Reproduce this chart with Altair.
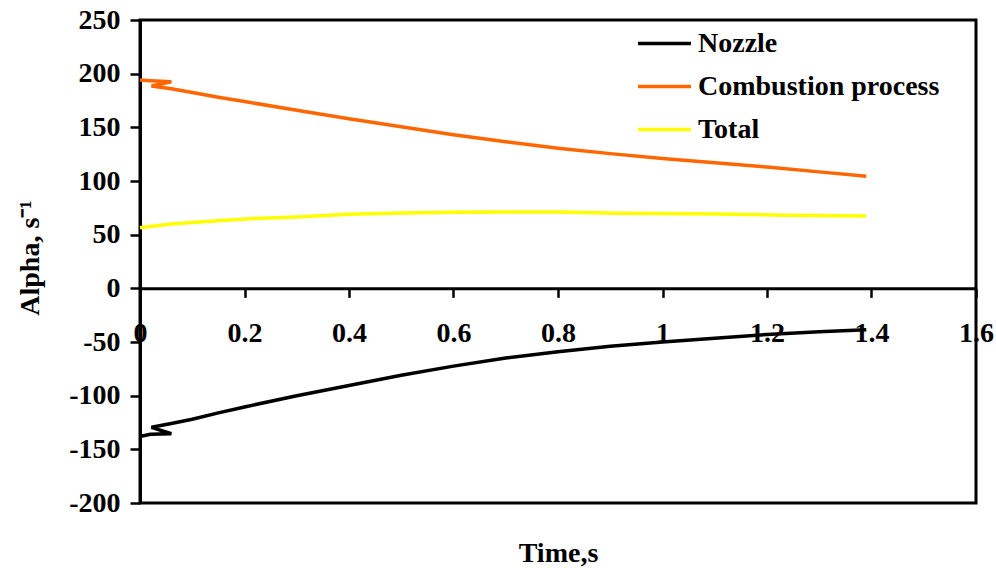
import altair as alt
import pandas as pd

series_names = ["Nozzle", "Combustion process", "Total"]
colors = ["#000000", "#FF6600", "#FFFF00"]

comb_t = [0, 0.02, 0.06, 0.022, 0.06, 0.1, 0.15, 0.2, 0.3, 0.4, 0.5, 0.6, 0.7, 0.8, 0.9, 1.0, 1.1, 1.2, 1.3, 1.39]
comb_v = [194, 193.5, 192.5, 188.5, 186, 182.5, 178, 174, 166, 158, 150.5, 143, 136.5, 130.5, 125.5, 121, 117, 113, 108.5, 104.5]

noz_t = [0, 0.02, 0.06, 0.022, 0.06, 0.1, 0.15, 0.2, 0.3, 0.4, 0.5, 0.6, 0.7, 0.8, 0.9, 1.0, 1.1, 1.2, 1.3, 1.39]
noz_v = [-138, -136, -135.5, -129.5, -126, -122, -116, -110.5, -100, -90.5, -81, -72.5, -65, -59, -54, -50, -46.5, -43, -40.5, -38.5]

tot_t = [0, 0.06, 0.12, 0.165, 0.22, 0.3, 0.4, 0.5, 0.6, 0.7, 0.8, 0.92, 1.0, 1.1, 1.23, 1.39]
tot_v = [56.5, 60, 62, 63.4, 65, 66.5, 69, 70.3, 71, 71.2, 71.2, 70, 69.7, 69.3, 68.2, 67.5]

x_ticks = [0, 0.2, 0.4, 0.6, 0.8, 1.0, 1.2, 1.4, 1.6]
y_ticks = [-200, -150, -100, -50, 0, 50, 100, 150, 200, 250]

rows = []
for name, ts, vs in [("Nozzle", noz_t, noz_v), ("Combustion process", comb_t, comb_v), ("Total", tot_t, tot_v)]:
    for i, (t, v) in enumerate(zip(ts, vs)):
        rows.append({"series": name, "t": t, "v": v, "idx": i})
df = pd.DataFrame(rows)

W, H = 836, 483
ymin, ymax = -200, 250
zero_pos = H * (ymax - 0) / (ymax - ymin)

FONT = "Liberation Serif"
FS = 28

chart = alt.Chart(df).mark_line(strokeWidth=3.5).encode(
    x=alt.X("t:Q",
            scale=alt.Scale(domain=[0, 1.6], nice=False, zero=False),
            axis=alt.Axis(values=x_ticks, format="~g", offset=-(H - zero_pos),
                          title="Time,s", titleX=W / 2, titleY=265, titleBaseline="middle",
                          tickSize=9, tickWidth=2.5, domainWidth=3, labelPadding=22,
                          labelFlush=False, grid=False)),
    y=alt.Y("v:Q",
            scale=alt.Scale(domain=[ymin, ymax], nice=False),
            axis=alt.Axis(values=y_ticks, title="Alpha, s⁻¹",
                          labelExpr="'' + datum.value",
                          tickSize=10, tickWidth=2.5, domainWidth=3, labelPadding=10,
                          titleX=-110, titleY=H / 2 - 4, titleBaseline="middle", titleAlign="center",
                          grid=False)),
    color=alt.Color("series:N",
                    scale=alt.Scale(domain=series_names, range=colors),
                    sort=series_names,
                    legend=alt.Legend(title=None, orient="none", legendX=496, legendY=-5,
                                      symbolType="stroke", symbolSize=2800, symbolStrokeWidth=3.5,
                                      labelFont=FONT, labelFontSize=FS, labelFontWeight="bold",
                                      labelColor="black", rowPadding=-13, labelOffset=5,
                                      labelLimit=0, padding=0)),
    order=alt.Order("idx:Q"),
).properties(
    width=W, height=H,
    autosize=alt.AutoSizeParams(type="none"),
    padding={"left": 140, "top": 20, "right": 20, "bottom": 65},
).configure_view(
    stroke="black", strokeWidth=3
).configure_axis(
    labelFont=FONT, labelFontSize=FS, labelFontWeight="bold", labelColor="black",
    titleFont=FONT, titleFontSize=FS, titleFontWeight="bold", titleColor="black",
    domainColor="black", tickColor="black",
)

chart.save("out.html", embed_options={"renderer": "svg", "actions": False})
